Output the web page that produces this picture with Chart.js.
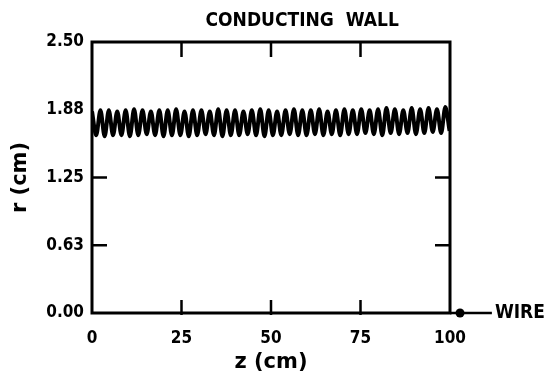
<!DOCTYPE html>
<html>
<head>
<meta charset="utf-8">
<script src="https://cdn.jsdelivr.net/npm/chart.js@4"></script>
<style>
  html, body { margin: 0; padding: 0; background: #fff; }
  #wrap { width: 548px; height: 379px; }
</style>
</head>
<body>
<div id="wrap"><canvas id="c" width="548" height="379"></canvas></div>
<script>
// turning points of the orbit r(z) (peak, trough, peak, ...)
const zTurn = [0, 1.18, 2.35, 3.53, 4.70, 5.88, 7.05, 8.23, 9.40, 10.58, 11.75, 12.93, 14.10, 15.28, 16.45,
  17.63, 18.80, 19.98, 21.15, 22.33, 23.50, 24.68, 25.85, 27.03, 28.20, 29.38, 30.55, 31.73, 32.90, 34.08,
  35.25, 36.43, 37.60, 38.78, 39.95, 41.13, 42.30, 43.48, 44.65, 45.83, 47.00, 48.18, 49.35, 50.53, 51.70,
  52.88, 54.05, 55.23, 56.40, 57.58, 58.75, 59.93, 61.10, 62.28, 63.45, 64.63, 65.80, 66.98, 68.15, 69.33,
  70.50, 71.68, 72.85, 74.03, 75.20, 76.38, 77.55, 78.73, 79.90, 81.08, 82.25, 83.43, 84.60, 85.78, 86.95,
  88.13, 89.30, 90.48, 91.65, 92.83, 94.00, 95.18, 96.35, 97.53, 98.70, 99.88];
const rTurn = [1.86, 1.64, 1.87, 1.63, 1.87, 1.64, 1.86, 1.64, 1.87, 1.63, 1.88, 1.64, 1.87, 1.65, 1.86,
  1.64, 1.87, 1.63, 1.87, 1.64, 1.88, 1.64, 1.86, 1.63, 1.87, 1.64, 1.87, 1.65, 1.86, 1.64, 1.88, 1.63,
  1.87, 1.64, 1.87, 1.64, 1.86, 1.65, 1.87, 1.64, 1.88, 1.63, 1.87, 1.64, 1.86, 1.64, 1.87, 1.65, 1.88,
  1.64, 1.87, 1.64, 1.87, 1.65, 1.88, 1.64, 1.86, 1.65, 1.87, 1.64, 1.88, 1.65, 1.87, 1.65, 1.88, 1.66,
  1.87, 1.65, 1.88, 1.64, 1.89, 1.66, 1.88, 1.65, 1.87, 1.66, 1.89, 1.65, 1.88, 1.66, 1.89, 1.67, 1.88,
  1.66, 1.90, 1.68];

const zTicks = [0, 25, 50, 75, 100];
const rTicks = [0, 0.625, 1.25, 1.875, 2.5];
const rTickLabels = ['0.00', '0.63', '1.25', '1.88', '2.50'];

// wire marker on the axis, right of the frame: line start, dot, line end
const wireZ = [100, 102.8, 111.7];

const FONT = "'DejaVu Sans Condensed', 'DejaVu Sans', sans-serif";

const orbit = zTurn.map((z, i) => ({ x: z, y: rTurn[i] }));

const frame = {
  id: 'frame',
  afterDraw(chart) {
    const { ctx, chartArea: a, scales } = chart;
    ctx.save();
    ctx.strokeStyle = '#000';
    ctx.lineWidth = 3;
    ctx.strokeRect(a.left, a.top, a.right - a.left, a.bottom - a.top);

    // inward ticks
    ctx.lineWidth = 2.5;
    ctx.beginPath();
    [25, 50, 75].forEach(v => {
      const x = scales.x.getPixelForValue(v);
      ctx.moveTo(x, a.top); ctx.lineTo(x, a.top + 15);
      ctx.moveTo(x, a.bottom + 2); ctx.lineTo(x, a.bottom - 13);
    });
    [0.625, 1.25].forEach(v => {
      const y = scales.y.getPixelForValue(v);
      ctx.moveTo(a.left, y); ctx.lineTo(a.left + 15, y);
      ctx.moveTo(a.right, y); ctx.lineTo(a.right - 15, y);
    });
    ctx.stroke();

    ctx.fillStyle = '#000';
    ctx.font = 'bold 19px ' + FONT;
    ctx.textAlign = 'center';
    ctx.textBaseline = 'middle';
    ctx.fillText('CONDUCTING  WALL', a.left + 0.587 * (a.right - a.left), 21);

    // wire
    const yw = scales.y.getPixelForValue(0);
    const x0 = scales.x.getPixelForValue(wireZ[0]);
    const xd = scales.x.getPixelForValue(wireZ[1]);
    const x1 = scales.x.getPixelForValue(wireZ[2]);
    ctx.lineWidth = 2.5;
    ctx.beginPath();
    ctx.moveTo(x0, yw); ctx.lineTo(x1, yw);
    ctx.stroke();
    ctx.beginPath();
    ctx.arc(xd, yw, 4.5, 0, Math.PI * 2);
    ctx.fill();
    ctx.textAlign = 'left';
    ctx.fillText('WIRE', x1 + 3, yw);
    ctx.restore();
  }
};

new Chart(document.getElementById('c'), {
  type: 'line',
  data: {
    datasets: [{
      data: orbit,
      borderColor: '#000',
      borderWidth: 4,
      pointRadius: 0,
      cubicInterpolationMode: 'monotone',
      fill: false
    }]
  },
  options: {
    responsive: false,
    animation: false,
    layout: { padding: { top: 42, right: 98, left: 0, bottom: 0 } },
    plugins: { legend: { display: false }, tooltip: { enabled: false } },
    scales: {
      x: {
        type: 'linear',
        min: 0,
        max: 100,
        afterBuildTicks: s => { s.ticks = zTicks.map(v => ({ value: v })); },
        afterFit: s => { s.height = 66; },
        grid: { display: false, drawTicks: false },
        border: { display: false },
        ticks: { color: '#000', padding: 15, autoSkip: false, maxRotation: 0, font: { family: FONT, size: 17, weight: 'bold' } },
        title: { display: true, text: 'z (cm)', color: '#000', padding: { top: 0, bottom: 4 }, font: { family: "'DejaVu Sans', sans-serif", size: 21, weight: 'bold' } }
      },
      y: {
        type: 'linear',
        min: 0,
        max: 2.5,
        afterBuildTicks: s => { s.ticks = rTicks.map(v => ({ value: v })); },
        afterFit: s => { s.width = 92; },
        grid: { display: false, drawTicks: false },
        border: { display: false },
        ticks: { color: '#000', padding: 8, callback: (v, i) => rTickLabels[i], font: { family: FONT, size: 17, weight: 'bold' } },
        title: { display: true, text: 'r (cm)', color: '#000', padding: { top: 8, bottom: 0 }, font: { family: "'DejaVu Sans', sans-serif", size: 21, weight: 'bold' } }
      }
    }
  },
  plugins: [frame]
});
</script>
</body>
</html>
